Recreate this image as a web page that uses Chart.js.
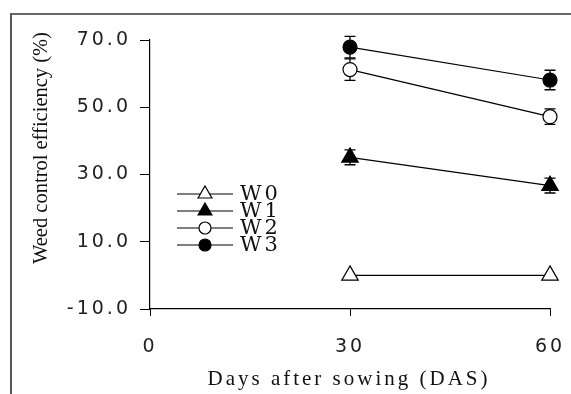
<!DOCTYPE html>
<html lang="en">
<head>
<meta charset="UTF-8">
<title>Weed control efficiency</title>
<script src="https://cdn.jsdelivr.net/npm/chart.js@4"></script>
<style>
  body { margin: 0; background: #fff; }
  #wrap { position: relative; width: 571px; height: 394px; overflow: hidden; }
  #frame { position: absolute; left: 10px; top: 13px; width: 600px; height: 420px; border-left: 2px solid #555; border-top: 2px solid #666; }
  #chart { position: absolute; left: 0; top: 0; }
</style>
</head>
<body>
<div id="wrap">
  <div id="frame"></div>
  <canvas id="chart" width="571" height="394"></canvas>
</div>
<script>
// data
const days = [30, 60];
const seriesNames = ['W0', 'W1', 'W2', 'W3'];
const w0 = [0.0, 0.0];
const w1 = [35.1, 26.7];
const w2 = [61.2, 47.2];
const w3 = [67.9, 58.1];
const w0Err = [0, 0];
const w1Err = [2.2, 2.2];
const w2Err = [3.2, 2.3];
const w3Err = [3.2, 2.9];
const xTicks = [0, 30, 60];
const yTicks = [-10, 10, 30, 50, 70];
const xTitle = 'Days after sowing (DAS)';
const yTitle = 'Weed control efficiency (%)';

const values = [w0, w1, w2, w3];
const errors = [w0Err, w1Err, w2Err, w3Err];
const markers = [
    { style: 'triangle', fill: '#fff', radius: 9.5, legendRadius: 8 },
    { style: 'triangle', fill: '#000', radius: 9.5, legendRadius: 8 },
    { style: 'circle', fill: '#fff', radius: 7, legendRadius: 6 },
    { style: 'circle', fill: '#000', radius: 7, legendRadius: 6 }
];

const datasets = seriesNames.map((name, i) => ({
    label: name,
    data: days.map((d, j) => ({ x: d, y: values[i][j] })),
    borderColor: '#000',
    borderWidth: 1.2,
    pointStyle: markers[i].style,
    pointRadius: markers[i].radius,
    pointBackgroundColor: markers[i].fill,
    pointBorderColor: '#000',
    pointBorderWidth: 1.2,
    fill: false,
    clip: false,
    tension: 0
}));

const serif = '"Liberation Serif", "Times New Roman", serif';

const errorBars = {
    id: 'errorBars',
    beforeDatasetsDraw(chart) {
        const ctx = chart.ctx;
        const xs = chart.scales.x, ys = chart.scales.y;
        ctx.save();
        ctx.strokeStyle = '#000';
        ctx.lineWidth = 1.3;
        errors.forEach((errs, i) => {
            errs.forEach((e, j) => {
                if (!e) return;
                const px = xs.getPixelForValue(days[j]);
                const top = ys.getPixelForValue(values[i][j] + e);
                const bot = ys.getPixelForValue(values[i][j] - e);
                ctx.beginPath();
                ctx.moveTo(px, top); ctx.lineTo(px, bot);
                ctx.moveTo(px - 5.5, top); ctx.lineTo(px + 5.5, top);
                ctx.moveTo(px - 5.5, bot); ctx.lineTo(px + 5.5, bot);
                ctx.stroke();
            });
        });
        ctx.restore();
    }
};

const textBits = {
    id: 'textBits',
    beforeDraw(chart) {
        // widened tick text like the original
        chart.ctx.letterSpacing = '3px';
    },
    afterDraw(chart) {
        const ctx = chart.ctx;
        ctx.save();
        ctx.fillStyle = '#111';
        ctx.strokeStyle = '#000';

        // legend
        ctx.font = '21px "DejaVu Serif", serif';
        ctx.letterSpacing = '3px';
        ctx.textBaseline = 'middle';
        ctx.textAlign = 'left';
        seriesNames.forEach((name, i) => {
            const y = 194 + i * 17;
            ctx.lineWidth = 1.2;
            ctx.beginPath();
            ctx.moveTo(177, y); ctx.lineTo(233, y);
            ctx.stroke();
            ctx.fillStyle = markers[i].fill;
            Chart.helpers.drawPoint(ctx, {
                pointStyle: markers[i].style,
                radius: markers[i].legendRadius,
                rotation: 0,
                borderWidth: 1.2
            }, 205, y);
            ctx.fillStyle = '#111';
            ctx.fillText(name, 240, y + 1);
        });

        // axis titles
        ctx.font = '21px ' + serif;
        ctx.letterSpacing = '3px';
        ctx.textAlign = 'center';
        ctx.fillText(xTitle, 349, 379);

        ctx.font = '20.5px ' + serif;
        ctx.letterSpacing = '0px';
        ctx.translate(42, 148);
        ctx.rotate(-Math.PI / 2);
        ctx.fillText(yTitle, 0, 0);
        ctx.restore();
        ctx.letterSpacing = '0px';
    }
};

new Chart(document.getElementById('chart'), {
    type: 'line',
    data: { datasets: datasets },
    options: {
        responsive: false,
        animation: false,
        layout: { padding: { top: 40, right: 21, left: 0, bottom: 0 } },
        plugins: { legend: { display: false }, tooltip: { enabled: false } },
        scales: {
            x: {
                type: 'linear',
                min: 0,
                max: 60,
                afterBuildTicks: s => { s.ticks = xTicks.map(v => ({ value: v })); },
                afterFit: s => { s.height = 85; s.paddingLeft = 0; s.paddingRight = 0; },
                grid: { drawOnChartArea: false, drawTicks: true, tickLength: 7, color: '#000' },
                border: { color: '#000', width: 1.2 },
                ticks: {
                    color: '#222',
                    padding: 20,
                    maxRotation: 0,
                    font: { family: '"DejaVu Sans", sans-serif', size: 19 }
                }
            },
            y: {
                min: -10,
                max: 70,
                afterBuildTicks: s => { s.ticks = yTicks.map(v => ({ value: v })); },
                afterFit: s => { s.width = 150; s.paddingTop = 0; s.paddingBottom = 0; },
                grid: { drawOnChartArea: false, drawTicks: true, tickLength: 10, color: '#000' },
                border: { color: '#000', width: 1.2 },
                ticks: {
                    color: '#222',
                    padding: 9,
                    callback: v => v.toFixed(1),
                    font: { family: '"DejaVu Sans", sans-serif', size: 19 }
                }
            }
        }
    },
    plugins: [errorBars, textBits]
});
</script>
</body>
</html>
